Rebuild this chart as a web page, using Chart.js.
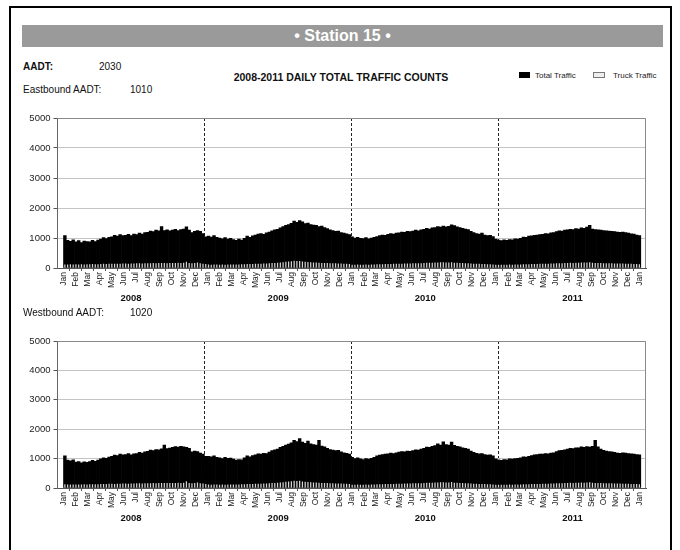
<!DOCTYPE html>
<html>
<head>
<meta charset="utf-8">
<title>Station 15</title>
<script src="https://cdn.jsdelivr.net/npm/chart.js@4.4.1/dist/chart.umd.min.js"></script>
<style>
    html, body { margin: 0; padding: 0; background: #fff; }
    body { width: 680px; height: 550px; position: relative; overflow: hidden;
           font-family: 'Liberation Sans', Arial, sans-serif; color: #111; }
    .frame { position: absolute; left: 9px; top: 6px; width: 659px; height: 560px; border: 2px solid #000; }
    .banner { position: absolute; left: 22px; top: 25px; width: 641px; height: 22px; background: #9a9a9a;
              color: #fff; font-weight: bold; font-size: 16px; line-height: 22px; text-align: center; }
    .txt { position: absolute; font-size: 10px; line-height: 10px; white-space: nowrap; }
    .b { font-weight: bold; }
    .title { position: absolute; left: 0; width: 682px; top: 72px; text-align: center;
             font-size: 10.5px; line-height: 11px; font-weight: bold; }
    .legend { position: absolute; top: 72px; font-size: 8px; line-height: 8px; white-space: nowrap; color: #222; }
    .swatch { display: inline-block; height: 6px; vertical-align: 0; box-sizing: border-box; }
    .chart-box { position: absolute; left: 10px; }
</style>
</head>
<body>
<div class="frame"></div>
<div class="banner">&bull; Station 15 &bull;</div>

<div class="txt b" style="left:23px; top:62px;">AADT:</div>
<div class="txt" style="left:99px; top:62px;">2030</div>
<div class="txt" style="left:23px; top:85px;">Eastbound AADT:</div>
<div class="txt" style="left:130px; top:85px;">1010</div>
<div class="title">2008-2011 DAILY TOTAL TRAFFIC COUNTS</div>
<div class="legend" style="left:519px;"><span class="swatch" style="width:11px; margin-right:5px; background:#000;"></span>Total Traffic</div>
<div class="legend" style="left:593px;"><span class="swatch" style="width:12px; margin-right:8px; background:#eee; border:1px solid #777;"></span>Truck Traffic</div>

<div class="chart-box" style="top:100px;"><canvas id="eastChart" width="650" height="210"></canvas></div>

<div class="txt" style="left:23px; top:308px;">Westbound AADT:</div>
<div class="txt" style="left:130px; top:308px;">1020</div>

<div class="chart-box" style="top:323px;"><canvas id="westChart" width="650" height="207"></canvas></div>

<script>
// Axis labels.
var MONTH_NAMES = ['Jan', 'Feb', 'Mar', 'Apr', 'May', 'Jun', 'Jul', 'Aug', 'Sep', 'Oct', 'Nov', 'Dec'];
var YEARS = ['2008', '2009', '2010', '2011'];
var Y_TICKS = [0, 1000, 2000, 3000, 4000, 5000];

// Weekly counts (one value per week from Jan 1 2008).
var EAST_TOTAL = [
    // 2008
    1080, 920, 890, 940, 870, 910, 850, 900, 880, 870, 920, 880, 930,
    960, 1010, 980, 1020, 1040, 1090, 1060, 1110, 1080, 1090, 1120, 1080, 1130,
    1110, 1160, 1130, 1180, 1190, 1230, 1210, 1260, 1240, 1380, 1250, 1270, 1240,
    1260, 1290, 1250, 1280, 1300, 1370, 1260, 1180, 1220, 1250, 1220, 1150, 1040,
    // 2009
    1060, 1030, 1080, 1020, 1000, 970, 1010, 960, 990, 950, 920, 960, 930,
    990, 1060, 1020, 1070, 1100, 1130, 1150, 1120, 1170, 1200, 1240, 1270, 1290,
    1340, 1380, 1420, 1450, 1490, 1560, 1520, 1580, 1540, 1480, 1500, 1450, 1430,
    1420, 1380, 1400, 1350, 1310, 1270, 1250, 1220, 1230, 1180, 1160, 1140, 1110,
    // 2010
    1040, 1000, 1020, 990, 980, 1010, 970, 1000, 1020, 1050, 1080, 1100, 1090,
    1120, 1150, 1130, 1160, 1170, 1200, 1190, 1220, 1210, 1230, 1260, 1240, 1270,
    1290, 1320, 1300, 1340, 1350, 1380, 1360, 1400, 1370, 1390, 1440, 1410, 1370,
    1350, 1320, 1300, 1280, 1220, 1180, 1150, 1130, 1160, 1100, 1080, 1090, 1050,
    // 2011
    960, 930, 910, 940, 920, 950, 940, 970, 960, 990, 1030, 1020, 1060,
    1070, 1090, 1100, 1110, 1120, 1150, 1140, 1170, 1180, 1210, 1240, 1230, 1260,
    1270, 1290, 1280, 1310, 1300, 1340, 1320, 1360, 1420, 1300, 1280, 1270, 1260,
    1250, 1240, 1230, 1220, 1210, 1200, 1190, 1200, 1180, 1160, 1140, 1130, 1100, 1080
];

var EAST_TRUCK = [
    // 2008
    120, 115, 125, 118, 122, 118, 126, 120, 124, 125, 130, 122, 128,
    132, 138, 135, 140, 142, 138, 145, 140, 148, 150, 145, 152, 148,
    155, 160, 152, 158, 162, 158, 165, 160, 168, 165, 170, 162, 168,
    170, 165, 172, 168, 175, 210, 165, 160, 170, 185, 160, 145, 130,
    // 2009
    118, 112, 120, 115, 110, 115, 112, 118, 114, 116, 120, 118, 124,
    128, 132, 130, 136, 140, 145, 142, 150, 148, 158, 165, 170, 175,
    185, 195, 205, 215, 225, 240, 230, 235, 220, 205, 200, 190, 185,
    180, 175, 170, 168, 165, 160, 158, 155, 150, 148, 145, 140, 130,
    // 2010
    112, 108, 115, 110, 112, 115, 110, 118, 120, 122, 125, 128, 130,
    132, 135, 138, 140, 142, 145, 148, 150, 152, 155, 158, 160, 162,
    168, 172, 175, 178, 180, 185, 190, 188, 185, 182, 195, 178, 172,
    168, 165, 160, 158, 150, 145, 140, 138, 136, 132, 128, 125, 118,
    // 2011
    110, 105, 108, 112, 110, 114, 112, 116, 118, 120, 124, 126, 128,
    130, 132, 135, 138, 140, 142, 145, 148, 150, 155, 158, 160, 165,
    168, 172, 170, 175, 178, 182, 180, 185, 190, 175, 170, 168, 165,
    162, 160, 158, 156, 152, 150, 148, 146, 144, 140, 138, 135, 130, 125
];

var WEST_TOTAL = [
    // 2008
    1090, 950, 920, 960, 880, 900, 860, 890, 870, 900, 940, 910, 950,
    990, 1030, 1010, 1050, 1080, 1120, 1100, 1150, 1130, 1140, 1170, 1130, 1160,
    1170, 1210, 1190, 1230, 1250, 1290, 1270, 1310, 1300, 1330, 1460, 1340, 1360,
    1380, 1410, 1390, 1420, 1400, 1380, 1350, 1230, 1260, 1240, 1190, 1150, 1080,
    // 2009
    1080, 1060, 1090, 1040, 1030, 1000, 1040, 1010, 1020, 980, 950, 970, 960,
    1030, 1090, 1060, 1100, 1130, 1160, 1150, 1180, 1170, 1220, 1270, 1300, 1320,
    1380, 1420, 1460, 1490, 1540, 1620, 1580, 1680, 1560, 1520, 1600, 1500, 1480,
    1460, 1620, 1430, 1400, 1350, 1310, 1290, 1270, 1280, 1230, 1200, 1180, 1150,
    // 2010
    1040, 1000, 1030, 990, 970, 1000, 980, 1010, 1040, 1090, 1120, 1140, 1150,
    1160, 1190, 1170, 1200, 1220, 1240, 1230, 1260, 1250, 1270, 1300, 1290, 1320,
    1350, 1390, 1380, 1420, 1440, 1500, 1460, 1570, 1480, 1460, 1560, 1450, 1420,
    1400, 1370, 1350, 1320, 1260, 1210, 1180, 1160, 1170, 1140, 1120, 1130, 1090,
    // 2011
    990, 960, 940, 970, 960, 990, 980, 1000, 1010, 1030, 1060, 1050, 1080,
    1100, 1130, 1140, 1150, 1150, 1170, 1160, 1190, 1200, 1240, 1270, 1280, 1300,
    1320, 1350, 1340, 1370, 1370, 1400, 1380, 1410, 1390, 1420, 1620, 1400, 1320,
    1280, 1260, 1240, 1230, 1210, 1190, 1180, 1200, 1190, 1170, 1160, 1150, 1140, 1130
];

var WEST_TRUCK = [
    // 2008
    125, 118, 122, 120, 118, 122, 120, 125, 121, 126, 128, 124, 130,
    134, 136, 138, 142, 144, 140, 148, 146, 150, 152, 148, 155, 150,
    158, 162, 156, 160, 165, 160, 168, 164, 170, 168, 172, 166, 170,
    172, 168, 175, 170, 178, 230, 168, 162, 172, 190, 165, 150, 132,
    // 2009
    120, 114, 122, 116, 112, 118, 114, 120, 116, 118, 122, 120, 126,
    130, 134, 132, 138, 142, 148, 145, 152, 150, 160, 168, 172, 178,
    188, 198, 210, 220, 230, 250, 235, 245, 225, 210, 205, 195, 188,
    185, 178, 172, 170, 168, 162, 160, 156, 152, 150, 146, 142, 132,
    // 2010
    114, 110, 116, 112, 114, 118, 112, 120, 122, 124, 126, 130, 132,
    134, 138, 140, 142, 145, 148, 150, 152, 155, 158, 160, 162, 165,
    170, 175, 178, 180, 185, 190, 195, 192, 188, 185, 200, 180, 175,
    170, 168, 162, 160, 152, 148, 142, 140, 138, 134, 130, 128, 120,
    // 2011
    112, 108, 110, 114, 112, 116, 114, 118, 120, 122, 126, 128, 130,
    132, 134, 138, 140, 142, 145, 148, 150, 152, 158, 160, 162, 168,
    170, 175, 172, 178, 180, 185, 182, 188, 195, 178, 172, 170, 168,
    165, 162, 160, 158, 155, 152, 150, 148, 146, 142, 140, 136, 132, 128
];

(function () {
    'use strict';

    var DAY_MS = 86400000;
    var START = Date.UTC(2008, 0, 1);
    var END_DAY = (Date.UTC(2012, 0, 1) - START) / DAY_MS;
    var FONT = "'Liberation Sans', Arial, sans-serif";

    // Day offsets of every month start, Jan 2008 .. Jan 2012.
    var monthTicks = [];
    for (var m = 0; m <= 48; m++) {
        monthTicks.push((Date.UTC(2008, m, 1) - START) / DAY_MS);
    }

    /**
     * Turn a weekly series into {x: day, y: count} points.
     */
    function toPoints(values) {
        return values.map(function (v, i) {
            return { x: i * 7 + 3.5, y: v };
        });
    }

    // Light frame round the plot area.
    var plotFrame = {
        id: 'plotFrame',
        afterDraw: function (chart) {
            var a = chart.chartArea;
            var ctx = chart.ctx;
            ctx.save();
            ctx.strokeStyle = '#8a8a8a';
            ctx.lineWidth = 1;
            ctx.beginPath();
            ctx.moveTo(a.left, a.top + 0.5);
            ctx.lineTo(a.right - 0.5, a.top + 0.5);
            ctx.lineTo(a.right - 0.5, a.bottom);
            ctx.stroke();
            ctx.restore();
        }
    };

    function buildChart(canvasId, total, truck) {
        var ctx = document.getElementById(canvasId).getContext('2d');

        return new Chart(ctx, {
            type: 'bar',
            data: {
                datasets: [{
                    label: 'Truck Traffic',
                    data: toPoints(truck),
                    backgroundColor: '#d6d6d6',
                    borderWidth: 0,
                    grouped: false,
                    barPercentage: 0.45,
                    categoryPercentage: 1
                }, {
                    label: 'Total Traffic',
                    data: toPoints(total),
                    backgroundColor: '#000',
                    borderWidth: 0,
                    grouped: false,
                    barPercentage: 1,
                    categoryPercentage: 1
                }]
            },
            options: {
                responsive: false,
                animation: false,
                events: [],
                layout: { padding: { top: 18, right: 14, left: 0, bottom: 0 } },
                plugins: {
                    legend: { display: false },
                    title: { display: false },
                    tooltip: { enabled: false }
                },
                scales: {
                    x: {
                        type: 'linear',
                        position: 'bottom',
                        weight: 0,
                        min: 0,
                        max: END_DAY,
                        afterBuildTicks: function (scale) {
                            scale.ticks = monthTicks.map(function (v) { return { value: v }; });
                        },
                        afterFit: function (scale) { scale.height = 22; },
                        grid: { drawOnChartArea: false, tickLength: 3, tickColor: '#555' },
                        border: { color: '#555' },
                        ticks: {
                            autoSkip: false,
                            minRotation: 90,
                            maxRotation: 90,
                            padding: 1,
                            color: '#222',
                            font: { family: FONT, size: 8.5 },
                            callback: function (value, index) {
                                return MONTH_NAMES[index % 12];
                            }
                        }
                    },
                    yr: {
                        type: 'category',
                        labels: YEARS,
                        position: 'bottom',
                        weight: 1,
                        offset: true,
                        afterFit: function (scale) { scale.height = 20; },
                        grid: {
                            offset: true,
                            drawTicks: false,
                            drawOnChartArea: true,
                            lineWidth: 1,
                            color: function (c) {
                                return c.index > 0 ? '#222' : 'rgba(0,0,0,0)';
                            }
                        },
                        border: { display: false, dash: [3, 2] },
                        ticks: {
                            padding: 3,
                            color: '#111',
                            font: { family: FONT, size: 9.5, weight: 'bold' }
                        }
                    },
                    y: {
                        min: Y_TICKS[0],
                        max: Y_TICKS[Y_TICKS.length - 1],
                        afterBuildTicks: function (scale) {
                            scale.ticks = Y_TICKS.map(function (v) { return { value: v }; });
                        },
                        afterFit: function (scale) { scale.width = 47.5; },
                        grid: { color: '#c4c4c4', tickColor: '#555', tickLength: 4 },
                        border: { color: '#666' },
                        ticks: {
                            padding: 3,
                            color: '#222',
                            font: { family: FONT, size: 9.5 },
                            callback: function (value) { return String(value); }
                        }
                    }
                }
            },
            plugins: [plotFrame]
        });
    }

    buildChart('eastChart', EAST_TOTAL, EAST_TRUCK);
    buildChart('westChart', WEST_TOTAL, WEST_TRUCK);
})();
</script>
</body>
</html>
